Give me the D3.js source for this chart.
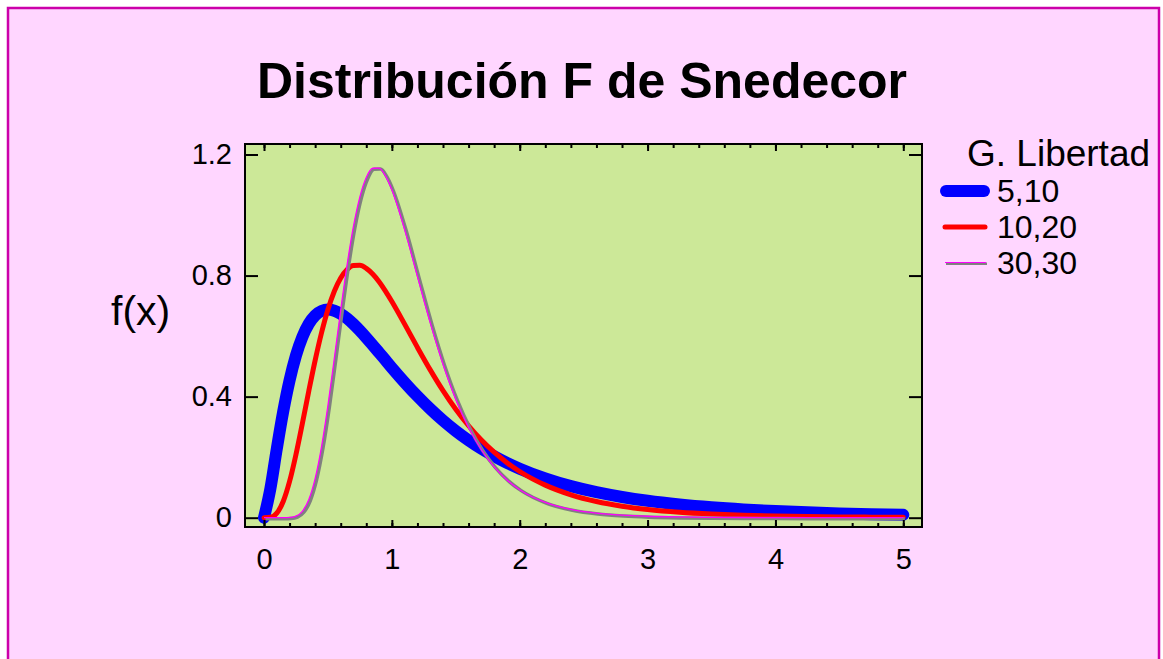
<!DOCTYPE html>
<html><head><meta charset="utf-8">
<script src="https://cdn.jsdelivr.net/npm/d3@7"></script>
<style>html,body{margin:0;padding:0;background:#fff;}svg{display:block;font-family:"Liberation Sans",Arial,sans-serif;}</style>
</head><body><svg id="c" width="1163" height="659"></svg>
<script>
const title = "Distribución F de Snedecor";
const yTitle = "f(x)";
const legendTitle = "G. Libertad";
const seriesNames = ["5,10", "10,20", "30,30"];
const xTicks = [0, 1, 2, 3, 4, 5];
const yTicks = [0, 0.4, 0.8, 1.2];
const yTickLabels = ["0", "0.4", "0.8", "1.2"];
const xValues = [0,0.05,0.1,0.15,0.2,0.25,0.3,0.35,0.4,0.45,0.5,0.55,0.6,0.65,0.7,0.75,0.8,0.85,0.9,0.95,1.0,1.1,1.2,1.3,1.4,1.5,1.6,1.7,1.8,1.9,2.0,2.2,2.4,2.6,2.8,3.0,3.25,3.5,3.75,4.0,4.25,4.5,4.75,5.0];
const f5_10 = [0,0.0963,0.2274,0.3502,0.4537,0.5358,0.5973,0.6405,0.6683,0.6831,0.6876,0.6837,0.6735,0.6584,0.6395,0.6180,0.5948,0.5704,0.5455,0.5204,0.4954,0.4470,0.4014,0.3593,0.3210,0.2864,0.2555,0.2278,0.2032,0.1813,0.1620,0.1296,0.1042,0.0842,0.0684,0.0558,0.0437,0.0344,0.0273,0.0219,0.0177,0.0143,0.0117,0.0096];
const f10_20 = [0,0.0013,0.0150,0.0535,0.1198,0.2089,0.3114,0.4178,0.5198,0.6111,0.6879,0.7482,0.7921,0.8198,0.8331,0.8337,0.8236,0.8049,0.7794,0.7487,0.7143,0.6396,0.5626,0.4884,0.4198,0.3581,0.3038,0.2567,0.2163,0.1819,0.1527,0.1076,0.0758,0.0536,0.0381,0.0272,0.0180,0.0121,0.0082,0.0056,0.0039,0.0027,0.0019,0.0013];
const f30_30 = [0,0,0,0.0001,0.0008,0.0054,0.0212,0.0593,0.1291,0.2343,0.3702,0.5259,0.6859,0.8355,0.9630,1.0602,1.1241,1.1545,1.1550,1.1294,1.0834,0.9519,0.7972,0.6443,0.5072,0.3916,0.2980,0.2245,0.1678,0.1248,0.0926,0.0507,0.0278,0.0153,0.0086,0.0048,0.0024,0.0012,0.0006,0.0003,0.0002,0.0001,0.0001,0];

const svg = d3.select("#c");
svg.append("rect").attr("x",8).attr("y",8).attr("width",1151).attr("height",700)
  .attr("fill","#FFD6FF").attr("stroke","#CC00AA").attr("stroke-width",2.5);

const P = {l:245, r:922, t:144, b:527};
const x = d3.scaleLinear().domain([0,5]).range([264,903.3]);
const y = d3.scaleLinear().domain([0,1.2]).range([517.7,154.5]);

svg.append("rect").attr("x",P.l).attr("y",P.t).attr("width",P.r-P.l).attr("height",P.b-P.t)
  .attr("fill","#CCE898");

svg.append("text").attr("x",582).attr("y",98).attr("text-anchor","middle")
  .attr("font-size",50).attr("font-weight","bold").text(title);
svg.append("text").attr("x",111).attr("y",325).attr("font-size",41).text(yTitle);

svg.append("clipPath").attr("id","clip").append("rect")
  .attr("x",P.l).attr("y",P.t-20).attr("width",P.r-P.l).attr("height",P.b-P.t+20);

const pts = arr => xValues.map((v,i)=>[v,arr[i]]);
const line = d3.line().x(d=>x(d[0])).y(d=>y(d[1])).curve(d3.curveMonotoneX);
const g = svg.append("g").attr("clip-path","url(#clip)");
g.append("path").attr("d",line(pts(f5_10))).attr("fill","none").attr("stroke","#0000FF")
  .attr("stroke-width",12).attr("stroke-linecap","round").attr("stroke-linejoin","round");
g.append("path").attr("d",line(pts(f10_20))).attr("fill","none").attr("stroke","#FF0000")
  .attr("stroke-width",5).attr("stroke-linecap","round").attr("stroke-linejoin","round");
g.append("path").attr("d",line(pts(f30_30))).attr("fill","none").attr("stroke","#808080")
  .attr("stroke-width",3.5).attr("transform","translate(1.5,1)").attr("stroke-linejoin","round");
g.append("path").attr("d",line(pts(f30_30))).attr("fill","none").attr("stroke","#FF00FF")
  .attr("stroke-width",1.3).attr("stroke-linejoin","round");

const minor = d3.range(0,5.0001,0.2);
const bottomAx = d3.axisBottom(x).tickValues(xTicks).tickFormat(d3.format("d")).tickSize(-7);
const ab = svg.append("g").attr("transform",`translate(0,${P.b})`).call(bottomAx);
ab.select(".domain").remove();
ab.selectAll("text").attr("font-size",29).attr("fill","#000").attr("font-family","Liberation Sans, Arial, sans-serif").attr("dy","0.71em").attr("y",21);
ab.selectAll("line").attr("stroke","#000").attr("stroke-width",2);
const abm = svg.append("g").attr("transform",`translate(0,${P.b})`).call(d3.axisBottom(x).tickValues(minor).tickFormat("").tickSize(-4));
abm.select(".domain").remove(); abm.selectAll("line").attr("stroke","#000").attr("stroke-width",2);
const at = svg.append("g").attr("transform",`translate(0,${P.t})`).call(d3.axisTop(x).tickValues(xTicks).tickFormat("").tickSize(-7));
at.select(".domain").remove(); at.selectAll("line").attr("stroke","#000").attr("stroke-width",2);
const atm = svg.append("g").attr("transform",`translate(0,${P.t})`).call(d3.axisTop(x).tickValues(minor).tickFormat("").tickSize(-4));
atm.select(".domain").remove(); atm.selectAll("line").attr("stroke","#000").attr("stroke-width",2);

const al = svg.append("g").attr("transform",`translate(${P.l},0)`)
  .call(d3.axisLeft(y).tickValues(yTicks).tickFormat((d,i)=>yTickLabels[i]).tickSize(-13));
al.select(".domain").remove();
al.selectAll("text").attr("font-size",29).attr("fill","#000").attr("font-family","Liberation Sans, Arial, sans-serif").attr("x",-13);
al.selectAll("line").attr("stroke","#000").attr("stroke-width",2);
const ar = svg.append("g").attr("transform",`translate(${P.r},0)`)
  .call(d3.axisRight(y).tickValues(yTicks).tickFormat("").tickSize(-13));
ar.select(".domain").remove(); ar.selectAll("line").attr("stroke","#000").attr("stroke-width",2);

svg.append("rect").attr("x",P.l).attr("y",P.t).attr("width",P.r-P.l).attr("height",P.b-P.t)
  .attr("fill","none").attr("stroke","#000").attr("stroke-width",2);

svg.append("text").attr("x",967).attr("y",166).attr("font-size",37).text(legendTitle);
const legY = [191, 227, 263];
const lg = svg.append("g");
lg.append("line").attr("x1",946).attr("x2",984).attr("y1",legY[0]).attr("y2",legY[0])
  .attr("stroke","#0000FF").attr("stroke-width",12).attr("stroke-linecap","round");
lg.append("line").attr("x1",945).attr("x2",985).attr("y1",legY[1]).attr("y2",legY[1])
  .attr("stroke","#FF0000").attr("stroke-width",5).attr("stroke-linecap","round");
lg.append("line").attr("x1",946).attr("x2",987).attr("y1",legY[2]+0.7).attr("y2",legY[2]+0.7)
  .attr("stroke","#808080").attr("stroke-width",2.5);
lg.append("line").attr("x1",945).attr("x2",986).attr("y1",legY[2]-0.5).attr("y2",legY[2]-0.5)
  .attr("stroke","#FF00FF").attr("stroke-width",1);
seriesNames.forEach((s,i)=>{
  lg.append("text").attr("x",997).attr("y",legY[i]+11).attr("font-size",32).text(s);
});
</script></body></html>
